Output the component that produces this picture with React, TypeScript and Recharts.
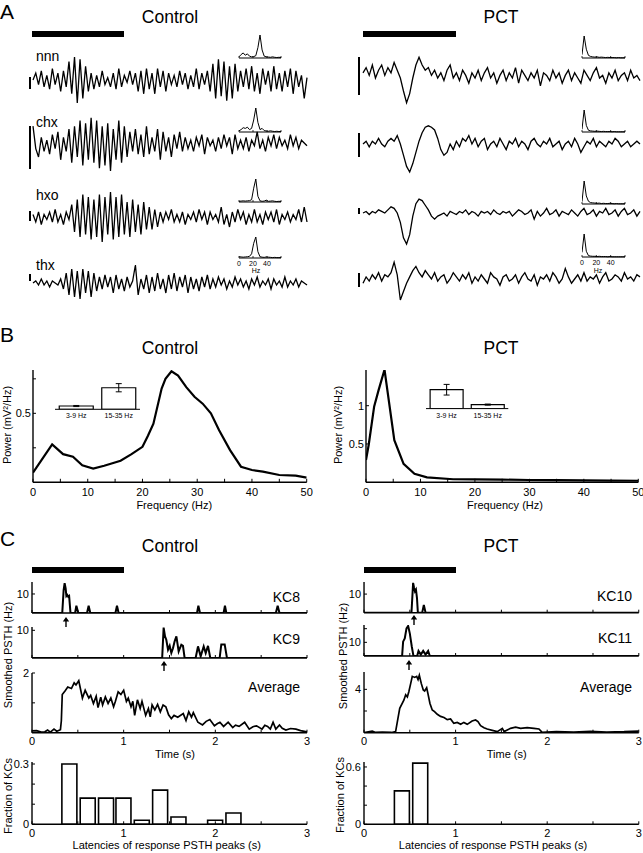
import { LineChart, Line, XAxis, YAxis, BarChart, Bar, ErrorBar } from 'recharts';

const FONT = '"Liberation Sans", Arial, Helvetica, sans-serif';
const INK = '#000';

// ---- Panel A: raw LFP traces (arbitrary units, left to right) ----
const CTRL_NNN = [0, 3, -2, 4, -3, 2, -4, 5, -2, 3, -5, 4, -3, 8, -6, 10, -10, 9, -8, 6, -5, 3, -4, 2, -3, 4, -2, 1, -3, 3, -4, 5, -3, 2, -1, 4, -2, 3, -5, 4, -6, 5, -4, 3, -6, 5, -3, 4, -5, 3, -2, 2, -3, 4, -2, 3, -4, 2, -3, 5, -4, 3, -2, 4, -5, 7, -8, 9, -7, 8, -9, 6, -8, 7, -5, 4, -3, 5, -4, 6, -5, 3, -6, 5, -2, 4, -5, 6, -4, 3, -5, 4, -3, 5, -6, 4, -3, 2, -8, 1];
const CTRL_CHX = [6, -2, -5, 2, -3, 1, -4, 3, -2, 4, -6, 2, -3, 5, -7, 6, -5, 8, -8, 7, -6, 9, -7, 8, -9, 6, -8, 7, -10, 5, -6, 8, -7, 6, -5, 4, -3, 5, -4, 3, -5, 6, -4, 2, -3, 5, -6, 4, -3, 2, -5, 3, -2, 4, -3, 2, -2, 1, -3, 2, -1, 3, -4, 2, -1, 1, -3, 2, -2, 3, -1, 2, -4, 3, -2, 1, -2, 2, -3, 1, -1, 4, -2, 1, -3, 2, -1, 3, -2, 2, -1, 1, -2, 3, -1, 2, -2, 1, 0, -1];
const CTRL_HXO = [1, -2, 2, -3, 1, -1, 2, -2, 3, -2, 1, -3, 2, -1, 5, -6, 7, -8, 9, -7, 8, -9, 7, -8, 9, -10, 8, -7, 10, -9, 8, -8, 9, -7, 6, -8, 7, -6, 5, -7, 6, -5, 4, -5, 3, -4, 2, -2, 2, -1, 3, -2, 1, -2, 2, -3, 1, -1, 2, -2, 3, -1, 2, -3, 2, -1, 1, -2, 4, -3, 1, -4, 2, -2, 3, -1, 2, -3, 1, -2, 3, -2, 1, -3, 2, -1, 2, -2, 3, -3, 1, -1, 2, -2, 1, -1, 3, -2, 4, -2];
const CTRL_THX = [0, 1, -1, 2, -1, 1, -2, 1, 0, -1, 2, -3, 5, -6, 7, -7, 6, -8, 7, -5, 6, -7, 5, -4, 3, -3, 4, -2, 3, -5, 4, -3, 2, -4, 3, -2, 1, 9, -6, 2, -3, 4, -5, 3, -4, 5, -3, 2, -5, 4, -3, 5, -4, 3, -2, 4, -5, 3, -3, 2, -4, 3, -2, 4, -3, 2, -2, 3, -1, 2, -3, 1, -2, 3, -1, 2, -2, 1, -3, 2, -1, 3, -2, 1, -1, 2, -3, 2, -1, 1, -2, 3, -2, 1, -1, 2, -2, 1, 0, -1];
const PCT_NNN = [2, 4, 1, 5, 0, 3, 5, 1, 4, 2, 6, 3, 0, -5, -9.5, -6, 0, 5, 8, 5, 3, 4, 1, 3, 0, 2, -1, 3, 5, 0, 2, -1, 3, 1, -2, 2, 0, 3, -1, 2, 4, 0, 2, -2, 1, 3, -1, 2, 0, 4, -2, 3, 1, -1, 2, 0, 3, -3, 2, 1, -1, 3, 0, 2, -2, 1, 3, -1, 2, 0, -2, 3, 1, -1, 2, 4, 0, 1, -2, 2, 0, 3, -1, 1, 2, -1, 3, 0, 1, -1];
const PCT_CHX = [0, 1, -1, 1, 0, 2, 0, -1, 1, 2, 1, 3, 0, -4, -8, -10, -7, -3, 1, 4, 6, 6.5, 6, 5, 2, -2, -4, -3, 0, -2, 1, -1, 2, 1, 3, 0, 2, -1, 1, 2, -2, 0, 1, -1, 2, 0, -2, 1, 0, 2, -1, 1, 0, -2, 1, 2, 0, -1, 1, 0, 2, -1, 0, 1, -2, 0, 1, -1, 2, 0, -3, -1, 1, 0, 2, -1, 1, 0, -1, 1, 0, 2, 1, -1, 0, 1, -1, 0, 1, 0];
const PCT_HXO = [0, 0.5, -0.5, 0.5, 0, 1, 0.5, 0, 1, 2, 1.5, 0, -3, -8, -10, -7, -1, 3, 4.5, 4, 2.5, 1, -1, -2, -1, -0.5, 0, -1, 0.5, 0, -0.5, 0.5, 0, 1, -0.5, 0.5, 0, -1, 0.5, 0, 0.5, -0.5, 1, 0, -0.5, 0.5, 0, 0.5, -1, 0, 1, 0.5, -0.5, 0, 1, -2, 0.5, -1, 0, 1.5, -0.5, 0, 1, -1, 0.5, 0, -0.5, 1, 0, -1, 0.5, 1.5, -0.5, 0, 1, -1, 0.5, 0, 1.5, -0.5, 0, 1, -1, 0.5, 1.5, -0.5, 0, 1, -1, 0.5];
const PCT_THX = [-2, 1, -1, 2, 0, 3, -1, 2, 1, 3, 8, 2, -10, -6, -2, 1, 4, 6, 3, 1, 4, 2, 0, 3, -1, 1, 2, -2, 0, 3, 1, -1, 2, 0, 3, -2, 1, -1, 2, 0, -2, 3, 1, 0, -3, 1, 2, -1, 0, 2, -2, 1, 3, 0, -1, 2, -3, 1, 0, 2, -1, 3, 1, -2, 0, 5, 1, -2, 0, 2, -1, 3, -1, 1, 0, 2, -2, 1, 3, -1, 0, 2, 1, -1, 3, 0, 1, -1, 2, 1];

// ---- Panel A insets: normalised power spectra ----
const INSET_FREQ = [0, 3, 6, 9, 12, 15, 18, 21, 24, 27, 30, 33, 36, 39, 42, 45, 48, 51, 54, 57, 60];
const SPEC_CTRL_NNN = [0.05, 0.15, 0.22, 0.12, 0.18, 0.08, 0.05, 0.06, 0.1, 0.45, 1.0, 0.35, 0.08, 0.05, 0.04, 0.03, 0.05, 0.03, 0.02, 0.03, 0.02];
const SPEC_CTRL_CHX = [0.05, 0.1, 0.18, 0.15, 0.2, 0.1, 0.15, 0.5, 1.0, 0.4, 0.1, 0.15, 0.06, 0.04, 0.03, 0.05, 0.03, 0.02, 0.03, 0.02, 0.02];
const SPEC_CTRL_HXO = [0.03, 0.04, 0.05, 0.04, 0.05, 0.06, 0.1, 0.6, 1.0, 0.25, 0.05, 0.03, 0.04, 0.08, 0.03, 0.04, 0.05, 0.03, 0.02, 0.03, 0.02];
const SPEC_CTRL_THX = [0.06, 0.05, 0.04, 0.05, 0.06, 0.08, 0.2, 0.7, 1.0, 0.3, 0.06, 0.04, 0.03, 0.05, 0.04, 0.03, 0.02, 0.03, 0.02, 0.02, 0.02];
const SPEC_PCT_NNN = [0.15, 1.0, 0.4, 0.12, 0.07, 0.05, 0.04, 0.05, 0.03, 0.04, 0.03, 0.02, 0.03, 0.02, 0.02, 0.02, 0.01, 0.02, 0.01, 0.01, 0.01];
const SPEC_PCT_CHX = [0.12, 1.0, 0.3, 0.08, 0.05, 0.04, 0.03, 0.04, 0.03, 0.02, 0.03, 0.02, 0.02, 0.02, 0.01, 0.02, 0.01, 0.01, 0.01, 0.01, 0.01];
const SPEC_PCT_HXO = [0.1, 1.0, 0.35, 0.12, 0.06, 0.05, 0.04, 0.03, 0.04, 0.02, 0.03, 0.02, 0.02, 0.03, 0.02, 0.01, 0.02, 0.01, 0.01, 0.01, 0.01];
const SPEC_PCT_THX = [0.2, 1.0, 0.25, 0.06, 0.04, 0.03, 0.03, 0.02, 0.03, 0.02, 0.02, 0.02, 0.01, 0.02, 0.01, 0.01, 0.01, 0.01, 0.01, 0.01, 0.01];

// ---- Panel B: mean power spectra (mV^2/Hz) ----
const B_CTRL_FREQ = [0, 3.5, 5.5, 7.3, 9, 11, 13, 16, 18, 20, 21, 22, 23.5, 24.2, 25.3, 26.5, 28, 29.5, 31, 32.5, 34, 36, 38, 40, 42, 45, 48, 50];
const B_CTRL_POWER = [0.07, 0.274, 0.204, 0.185, 0.123, 0.1, 0.12, 0.156, 0.204, 0.257, 0.337, 0.425, 0.68, 0.75, 0.805, 0.774, 0.69, 0.62, 0.57, 0.5, 0.377, 0.233, 0.113, 0.089, 0.077, 0.053, 0.048, 0.034];
const B_PCT_FREQ = [0, 0.5, 1.5, 2.3, 3.4, 5.2, 6.9, 8.9, 11.2, 16, 20, 25, 30, 35, 40, 45, 50];
const B_PCT_POWER = [0.29, 0.49, 0.99, 1.2, 1.47, 0.55, 0.24, 0.11, 0.065, 0.04, 0.038, 0.035, 0.03, 0.028, 0.025, 0.022, 0.02];

// band-power insets
const BANDS = ['3-9 Hz', '15-35 Hz'];
const BAND_CTRL = [0.12, 0.79];
const BAND_CTRL_ERR = [0.02, 0.15];
const BAND_PCT = [0.71, 0.15];
const BAND_PCT_ERR = [0.2, 0.02];

// ---- Panel C: smoothed PSTHs (time s, rate Hz) ----
const KC8_T = [0, 0.33, 0.345, 0.356, 0.367, 0.375, 0.385, 0.395, 0.405, 0.42, 0.47, 0.484, 0.505, 0.6, 0.618, 0.636, 0.91, 0.927, 0.945, 1.8, 1.815, 1.833, 2.09, 2.105, 2.12, 2.66, 2.68, 2.7, 3];
const KC8_V = [0, 0, 12, 15.7, 13, 8.9, 9.5, 8.6, 9, 0, 0, 3.8, 0, 0, 3.8, 0, 0, 3.8, 0, 0, 3.8, 0, 0, 3.8, 0, 0, 3.8, 0, 0];
const KC9_T = [0, 1.42, 1.436, 1.451, 1.465, 1.484, 1.502, 1.52, 1.538, 1.556, 1.575, 1.6, 1.629, 1.647, 1.665, 1.785, 1.811, 1.84, 1.873, 1.895, 1.92, 1.945, 2.047, 2.065, 2.102, 2.127, 3];
const KC9_V = [0, 0, 11, 7.8, 6.6, 3, 4.4, 1.8, 3.5, 6, 7.8, 2.4, 4.8, 4.4, 0, 0, 4.2, 0.6, 4.2, 1.8, 4.4, 0, 0, 4.9, 4.9, 0, 0];
const KC10_T = [0, 0.518, 0.536, 0.547, 0.556, 0.567, 0.578, 0.588, 0.635, 0.653, 0.672, 3];
const KC10_V = [0, 0, 16, 13.3, 11.5, 12.4, 8, 0, 0, 4.2, 0, 0];
const KC11_T = [0, 0.416, 0.427, 0.445, 0.464, 0.482, 0.5, 0.522, 0.54, 0.58, 0.595, 0.62, 0.646, 0.672, 0.7, 0.719, 3];
const KC11_V = [0, 0, 10.5, 12.9, 20.2, 22, 16.6, 6.8, 0, 0, 3.7, 1, 3.7, 1, 3.7, 0, 0];

const AVG_CTRL_T = [0, 0.05, 0.1, 0.14, 0.17, 0.2, 0.24, 0.27, 0.31, 0.32, 0.33, 0.36, 0.39, 0.43, 0.46, 0.48, 0.51, 0.55, 0.58, 0.62, 0.64, 0.67, 0.7, 0.72, 0.75, 0.77, 0.8, 0.83, 0.86, 0.89, 0.91, 0.94, 0.97, 1.0, 1.03, 1.05, 1.08, 1.1, 1.12, 1.15, 1.18, 1.2, 1.24, 1.27, 1.29, 1.31, 1.34, 1.37, 1.4, 1.43, 1.46, 1.49, 1.52, 1.55, 1.59, 1.65, 1.68, 1.71, 1.74, 1.76, 1.81, 1.86, 1.9, 1.94, 1.99, 2.02, 2.05, 2.09, 2.14, 2.19, 2.22, 2.26, 2.32, 2.37, 2.41, 2.45, 2.51, 2.54, 2.57, 2.6, 2.63, 2.66, 2.7, 2.73, 2.77, 2.82, 2.88, 2.93, 3.0];
const AVG_CTRL_V = [0.06, 0.07, 0.02, 0.03, 0.09, 0.02, 0.12, 0.05, 0.1, 0.4, 1.28, 1.4, 1.53, 1.48, 1.67, 1.6, 1.74, 1.16, 1.42, 1.16, 1.25, 0.98, 1.22, 0.84, 1.19, 0.93, 1.2, 0.98, 1.16, 0.87, 1.05, 1.37, 1.28, 1.42, 1.05, 1.16, 0.87, 1.05, 0.58, 1.1, 0.81, 1.05, 0.58, 0.81, 0.53, 0.93, 0.76, 0.95, 0.7, 0.93, 0.87, 0.6, 0.47, 0.58, 0.52, 0.64, 0.41, 0.7, 0.52, 0.67, 0.35, 0.26, 0.38, 0.44, 0.23, 0.3, 0.35, 0.21, 0.35, 0.17, 0.25, 0.21, 0.35, 0.12, 0.2, 0.23, 0.12, 0.25, 0.21, 0.12, 0.35, 0.12, 0.26, 0.15, 0.09, 0.14, 0.12, 0.07, 0.03];
const AVG_PCT_T = [0, 0.09, 0.12, 0.2, 0.3, 0.345, 0.37, 0.39, 0.435, 0.455, 0.473, 0.49, 0.51, 0.527, 0.553, 0.575, 0.59, 0.604, 0.625, 0.647, 0.662, 0.684, 0.698, 0.72, 0.745, 0.77, 0.8, 0.836, 0.873, 0.909, 0.945, 0.98, 1.018, 1.055, 1.09, 1.127, 1.18, 1.218, 1.244, 1.273, 1.31, 1.345, 1.4, 1.455, 1.51, 1.53, 1.6, 1.655, 1.71, 1.782, 1.855, 1.91, 1.945, 2.1, 2.29, 2.47, 2.65, 2.84, 3.0];
const AVG_PCT_V = [0, 0.15, 0.03, 0.05, 0.02, 0.1, 1.3, 2.25, 3.0, 3.5, 3.3, 3.8, 4.55, 5.2, 5.1, 5.2, 4.9, 5.3, 4.55, 3.95, 3.85, 4.15, 3.6, 2.7, 2.1, 1.95, 1.7, 1.5, 1.4, 1.2, 1.26, 0.86, 0.95, 0.77, 0.95, 0.77, 1.08, 1.17, 1.02, 0.65, 0.46, 0.34, 0.22, 0.1, 0.4, 0.1, 0.4, 0.52, 0.4, 0.46, 0.4, 0.34, 0.03, 0.1, 0.06, 0.12, 0.06, 0.09, 0.15];

// latency histograms (bin centre s, fraction of KCs)
const HIST_CTRL_T = [0.41, 0.61, 0.81, 1.0, 1.2, 1.4, 1.6, 2.0, 2.2];
const HIST_CTRL_F = [0.3, 0.13, 0.13, 0.13, 0.02, 0.17, 0.036, 0.02, 0.056];
const HIST_PCT_T = [0.41, 0.61];
const HIST_PCT_F = [0.35, 0.64];

const T_TICKS = [0, 0.5, 1, 1.5, 2, 2.5, 3];
const F_TICKS = [0, 5, 10, 15, 20, 25, 30, 35, 40, 45, 50];

type Box = { x: number; y: number; w: number; h: number };

const PAD = 8;
// box is the plot area in page pixels; axL / axB are the axis bands outside it
function frame(b: Box, axL = 0, axB = 0) {
  return {
    style: { position: 'absolute' as const, left: b.x - axL - PAD, top: b.y - PAD },
    width: b.w + axL + 2 * PAD,
    height: b.h + axB + 2 * PAD,
    margin: { top: PAD, right: PAD, bottom: PAD, left: PAD },
  };
}

const axisLine = { stroke: INK, strokeWidth: 1.4 };
const tickLine = { stroke: INK, strokeWidth: 1 };
const tickFont = { fill: INK, fontSize: 11 };
const only = (shown: number[]) => (v: number) => (shown.includes(v) ? String(v) : '');
const whole = (v: number) => (Number.isInteger(v) ? String(v) : '');

function Trace({ box, values }: { box: Box; values: number[] }) {
  const data = values.map((v, i) => ({ i, v }));
  const f = frame(box);
  return (
    <div style={f.style}>
      <LineChart width={f.width} height={f.height} margin={f.margin} data={data}>
        <XAxis dataKey="i" hide />
        <YAxis hide domain={[-10, 10]} />
        <Line dataKey="v" type="linear" stroke={INK} strokeWidth={1.3} dot={false} isAnimationActive={false} />
      </LineChart>
    </div>
  );
}

function SpecInset({ box, values, labelled = false }: { box: Box; values: number[]; labelled?: boolean }) {
  const data = INSET_FREQ.map((f, i) => ({ f, v: values[i] }));
  const f = frame(box, 0, 10);
  return (
    <div style={f.style}>
      <LineChart width={f.width} height={f.height} margin={f.margin} data={data}>
        <XAxis
          dataKey="f"
          type="number"
          domain={[0, 60]}
          allowDataOverflow
          ticks={[0, 20, 40, 60]}
          interval={0}
          height={10}
          tickSize={-2}
          tickMargin={5.5}
          axisLine={{ stroke: INK, strokeWidth: 1 }}
          tickLine={{ stroke: INK, strokeWidth: 0.8 }}
          tick={{ fill: INK, fontSize: 7 }}
          tickFormatter={(v: number) => (labelled && v < 60 ? String(v) : '')}
        />
        <YAxis hide domain={[0, 1]} />
        <Line dataKey="v" type="linear" stroke={INK} strokeWidth={1} dot={false} isAnimationActive={false} />
      </LineChart>
    </div>
  );
}

function Spectrum({ box, freq, power, yMax, yTicks, yShown }: { box: Box; freq: number[]; power: number[]; yMax: number; yTicks: number[]; yShown: number[] }) {
  const data = freq.map((f, i) => ({ f, p: power[i] }));
  const fr = frame(box, 32, 16);
  return (
    <div style={fr.style}>
      <LineChart width={fr.width} height={fr.height} margin={fr.margin} data={data}>
        <XAxis
          dataKey="f"
          type="number"
          domain={[0, 50]}
          allowDataOverflow
          ticks={F_TICKS}
          interval={0}
          height={16}
          tickSize={-3.5}
          tickMargin={9}
          axisLine={axisLine}
          tickLine={tickLine}
          tick={tickFont}
          tickFormatter={(v: number) => (v % 10 === 0 ? String(v) : '')}
        />
        <YAxis
          type="number"
          domain={[0, yMax]}
          allowDataOverflow
          ticks={yTicks}
          interval={0}
          width={32}
          tickSize={-3}
          tickMargin={5}
          axisLine={axisLine}
          tickLine={tickLine}
          tick={tickFont}
          tickFormatter={only(yShown)}
        />
        <Line dataKey="p" type="linear" stroke={INK} strokeWidth={2.2} dot={false} isAnimationActive={false} />
      </LineChart>
    </div>
  );
}

function BandInset({ box, values, errors }: { box: Box; values: number[]; errors: number[] }) {
  const data = BANDS.map((band, i) => ({ band, v: values[i], e: errors[i] }));
  const f = frame(box, 0, 12);
  return (
    <div style={f.style}>
      <BarChart width={f.width} height={f.height} margin={f.margin} data={data} barCategoryGap="10%">
        <XAxis
          dataKey="band"
          height={12}
          interval={0}
          tickSize={0}
          tickMargin={4}
          axisLine={{ stroke: INK, strokeWidth: 1 }}
          tickLine={false}
          tick={{ fill: INK, fontSize: 7 }}
        />
        <YAxis
          width={0}
          domain={[0, 1]}
          allowDataOverflow
          ticks={[0.25, 0.5, 0.75]}
          interval={0}
          tickSize={-1.5}
          tickMargin={0}
          axisLine={{ stroke: INK, strokeWidth: 1 }}
          tickLine={{ stroke: INK, strokeWidth: 0.8 }}
          tickFormatter={() => ''}
        />
        <Bar dataKey="v" fill="#fff" stroke={INK} strokeWidth={1.2} isAnimationActive={false}>
          <ErrorBar dataKey="e" width={3} stroke={INK} strokeWidth={1} />
        </Bar>
      </BarChart>
    </div>
  );
}

function TimeTrace({ box, t, v, yMax, yTicks, yShown, labels = false, width = 2 }: { box: Box; t: number[]; v: number[]; yMax: number; yTicks: number[]; yShown: number[]; labels?: boolean; width?: number }) {
  const data = t.map((x, i) => ({ t: x, v: v[i] }));
  const axB = labels ? 16 : 1;
  const f = frame(box, 30, axB);
  return (
    <div style={f.style}>
      <LineChart width={f.width} height={f.height} margin={f.margin} data={data}>
        <XAxis
          dataKey="t"
          type="number"
          domain={[0, 3]}
          allowDataOverflow
          ticks={T_TICKS}
          interval={0}
          height={axB}
          tickSize={-3}
          tickMargin={8}
          axisLine={axisLine}
          tickLine={tickLine}
          tick={tickFont}
          tickFormatter={labels ? whole : () => ''}
        />
        <YAxis
          type="number"
          domain={[0, yMax]}
          allowDataOverflow
          ticks={yTicks}
          interval={0}
          width={30}
          tickSize={-3}
          tickMargin={6}
          axisLine={axisLine}
          tickLine={tickLine}
          tick={tickFont}
          tickFormatter={only(yShown)}
        />
        <Line dataKey="v" type="linear" stroke={INK} strokeWidth={width} dot={false} isAnimationActive={false} />
      </LineChart>
    </div>
  );
}

function Hist({ box, t, v, yMax, yTicks, yShown }: { box: Box; t: number[]; v: number[]; yMax: number; yTicks: number[]; yShown: number[] }) {
  const data = t.map((x, i) => ({ t: x, v: v[i] }));
  const f = frame(box, 30, 16);
  return (
    <div style={f.style}>
      <BarChart width={f.width} height={f.height} margin={f.margin} data={data} barSize={15}>
        <XAxis
          dataKey="t"
          type="number"
          domain={[0, 3]}
          allowDataOverflow
          ticks={T_TICKS}
          interval={0}
          height={16}
          tickSize={-3}
          tickMargin={7.5}
          axisLine={axisLine}
          tickLine={tickLine}
          tick={tickFont}
          tickFormatter={whole}
        />
        <YAxis
          type="number"
          domain={[0, yMax]}
          allowDataOverflow
          ticks={yTicks}
          interval={0}
          width={30}
          tickSize={-3}
          tickMargin={6}
          axisLine={axisLine}
          tickLine={tickLine}
          tick={tickFont}
          tickFormatter={only(yShown)}
        />
        <Bar dataKey="v" fill="#fff" stroke={INK} strokeWidth={1.6} isAnimationActive={false} />
      </BarChart>
    </div>
  );
}

function Txt({ x, y, size, align = 'left', children }: { x: number; y: number; size: number; align?: 'left' | 'center' | 'right'; children: React.ReactNode }) {
  const shift = align === 'center' ? 'translateX(-50%)' : align === 'right' ? 'translateX(-100%)' : 'none';
  return (
    <div style={{ position: 'absolute', left: x, top: y, fontSize: size, lineHeight: 1, whiteSpace: 'nowrap', transform: shift }}>
      {children}
    </div>
  );
}

function VTxt({ x, y, size, children }: { x: number; y: number; size: number; children: React.ReactNode }) {
  return (
    <div style={{ position: 'absolute', left: x, top: y, fontSize: size, lineHeight: 1, whiteSpace: 'nowrap', transform: 'translate(-50%, -50%) rotate(-90deg)' }}>
      {children}
    </div>
  );
}

function Rect({ x, y, w, h }: Box) {
  return <div style={{ position: 'absolute', left: x, top: y, width: w, height: h, background: INK }} />;
}

function Arrow({ x, y }: { x: number; y: number }) {
  return (
    <svg style={{ position: 'absolute', left: x - 4, top: y }} width={8} height={10}>
      <path d="M4 0 L0.8 4.5 H3.3 V10 H4.7 V4.5 H7.2 Z" fill={INK} />
    </svg>
  );
}

export default function App() {
  return (
    <div style={{ position: 'absolute', left: 0, top: 0, width: 643, height: 853, background: '#fff', fontFamily: FONT, color: INK }}>
      {/* ---------- A ---------- */}
      <Txt x={0} y={0.5} size={21}>A</Txt>
      <Txt x={170} y={8.5} size={17.5} align="center">Control</Txt>
      <Txt x={501} y={8.5} size={17.5} align="center">PCT</Txt>
      <Rect x={32} y={31} w={92} h={6} />
      <Rect x={363} y={31} w={93} h={6} />

      <Txt x={36} y={49} size={14}>nnn</Txt>
      <Txt x={36} y={114.8} size={14}>chx</Txt>
      <Txt x={36} y={187.5} size={14}>hxo</Txt>
      <Txt x={36} y={257.5} size={14}>thx</Txt>

      <Trace box={{ x: 33, y: 57, w: 274, h: 46 }} values={CTRL_NNN} />
      <Trace box={{ x: 33, y: 115, w: 274, h: 56 }} values={CTRL_CHX} />
      <Trace box={{ x: 33, y: 191.5, w: 274, h: 50 }} values={CTRL_HXO} />
      <Trace box={{ x: 33, y: 263, w: 274, h: 40 }} values={CTRL_THX} />
      <Trace box={{ x: 363, y: 52, w: 277, h: 52 }} values={PCT_NNN} />
      <Trace box={{ x: 363, y: 116, w: 277, h: 56 }} values={PCT_CHX} />
      <Trace box={{ x: 363, y: 182, w: 277, h: 62 }} values={PCT_HXO} />
      <Trace box={{ x: 363, y: 258, w: 277, h: 42 }} values={PCT_THX} />

      {/* scale bars */}
      <Rect x={28.5} y={77} w={2} h={12} />
      <Rect x={28.5} y={126} w={2} h={43} />
      <Rect x={28.5} y={211} w={2} h={10} />
      <Rect x={28.5} y={274} w={2} h={7} />
      <Rect x={358} y={57} w={2} h={38} />
      <Rect x={358} y={133} w={2} h={24} />
      <Rect x={358} y={208} w={2} h={6} />
      <Rect x={358} y={273} w={2} h={14} />

      <SpecInset box={{ x: 239, y: 35, w: 42, h: 23 }} values={SPEC_CTRL_NNN} />
      <SpecInset box={{ x: 239, y: 108, w: 42, h: 24 }} values={SPEC_CTRL_CHX} />
      <SpecInset box={{ x: 239, y: 179, w: 42, h: 23 }} values={SPEC_CTRL_HXO} />
      <SpecInset box={{ x: 239, y: 237, w: 42, h: 21 }} values={SPEC_CTRL_THX} labelled />
      <SpecInset box={{ x: 582, y: 36, w: 43, h: 22 }} values={SPEC_PCT_NNN} />
      <SpecInset box={{ x: 582, y: 110, w: 43, h: 22 }} values={SPEC_PCT_CHX} />
      <SpecInset box={{ x: 582, y: 181, w: 43, h: 23 }} values={SPEC_PCT_HXO} />
      <SpecInset box={{ x: 582, y: 234, w: 43, h: 23 }} values={SPEC_PCT_THX} labelled />
      <Txt x={256} y={267} size={7} align="center">Hz</Txt>
      <Txt x={598} y={266.5} size={7} align="center">Hz</Txt>

      {/* ---------- B ---------- */}
      <Txt x={0} y={324} size={21}>B</Txt>
      <Txt x={170} y={340.2} size={17.5} align="center">Control</Txt>
      <Txt x={501} y={340.2} size={17.5} align="center">PCT</Txt>

      <Spectrum box={{ x: 33.3, y: 370, w: 273.7, h: 112.3 }} freq={B_CTRL_FREQ} power={B_CTRL_POWER} yMax={0.814} yTicks={[0.25, 0.5, 0.75]} yShown={[0.5]} />
      <Spectrum box={{ x: 365.7, y: 370, w: 272.3, h: 112.3 }} freq={B_PCT_FREQ} power={B_PCT_POWER} yMax={1.466} yTicks={[0.5, 1]} yShown={[0.5, 1]} />
      <BandInset box={{ x: 55, y: 381.7, w: 85, h: 27.3 }} values={BAND_CTRL} errors={BAND_CTRL_ERR} />
      <BandInset box={{ x: 426, y: 381.7, w: 82.3, h: 26.6 }} values={BAND_PCT} errors={BAND_PCT_ERR} />

      <VTxt x={7} y={425} size={11}>Power (mV²/Hz)</VTxt>
      <VTxt x={338} y={424.5} size={11}>Power (mV²/Hz)</VTxt>
      <Txt x={174.3} y={499.6} size={11} align="center">Frequency (Hz)</Txt>
      <Txt x={505} y={499.6} size={11} align="center">Frequency (Hz)</Txt>

      {/* ---------- C ---------- */}
      <Txt x={0} y={528.2} size={21}>C</Txt>
      <Txt x={170} y={537.9} size={17.5} align="center">Control</Txt>
      <Txt x={501} y={537.9} size={17.5} align="center">PCT</Txt>
      <Rect x={32} y={566.5} w={92} h={6} />
      <Rect x={364} y={566.5} w={92} h={6} />

      <TimeTrace box={{ x: 32.3, y: 582, w: 275, h: 31 }} t={KC8_T} v={KC8_V} yMax={16.3} yTicks={[10]} yShown={[10]} />
      <TimeTrace box={{ x: 32.3, y: 627.3, w: 275, h: 31 }} t={KC9_T} v={KC9_V} yMax={11.2} yTicks={[10]} yShown={[10]} />
      <TimeTrace box={{ x: 32.3, y: 673, w: 275, h: 59.7 }} t={AVG_CTRL_T} v={AVG_CTRL_V} yMax={2} yTicks={[1, 2]} yShown={[2]} labels width={1.7} />
      <Hist box={{ x: 32.3, y: 761.7, w: 275, h: 62.3 }} t={HIST_CTRL_T} v={HIST_CTRL_F} yMax={0.31} yTicks={[0, 0.1, 0.2, 0.3]} yShown={[0, 0.3]} />

      <TimeTrace box={{ x: 363.5, y: 582, w: 274.8, h: 30.7 }} t={KC10_T} v={KC10_V} yMax={16.5} yTicks={[10]} yShown={[10]} />
      <TimeTrace box={{ x: 363.5, y: 625, w: 274.8, h: 31 }} t={KC11_T} v={KC11_V} yMax={22.7} yTicks={[10, 20]} yShown={[10]} />
      <TimeTrace box={{ x: 363.5, y: 672, w: 274.8, h: 60.7 }} t={AVG_PCT_T} v={AVG_PCT_V} yMax={5.6} yTicks={[2, 4]} yShown={[4]} labels width={1.7} />
      <Hist box={{ x: 363.5, y: 761.7, w: 274.8, h: 62.3 }} t={HIST_PCT_T} v={HIST_PCT_F} yMax={0.652} yTicks={[0, 0.2, 0.4, 0.6]} yShown={[0, 0.6]} />

      <Arrow x={65.5} y={617} />
      <Arrow x={164.3} y={661} />
      <Arrow x={414} y={614.5} />
      <Arrow x={408.7} y={660} />

      <Txt x={300} y={589.8} size={14} align="right">KC8</Txt>
      <Txt x={300} y={631.5} size={14} align="right">KC9</Txt>
      <Txt x={300} y={679.8} size={14} align="right">Average</Txt>
      <Txt x={632} y={588.8} size={14} align="right">KC10</Txt>
      <Txt x={632} y={630.8} size={14} align="right">KC11</Txt>
      <Txt x={632} y={679.8} size={14} align="right">Average</Txt>

      <VTxt x={7.5} y={655} size={11}>Smoothed PSTH (Hz)</VTxt>
      <VTxt x={343} y={656} size={11}>Smoothed PSTH (Hz)</VTxt>
      <VTxt x={8.3} y={796} size={11}>Fraction of KCs</VTxt>
      <VTxt x={340.3} y={795} size={11}>Fraction of KCs</VTxt>
      <Txt x={175} y={748.6} size={11} align="center">Time (s)</Txt>
      <Txt x={506.7} y={748.6} size={11} align="center">Time (s)</Txt>
      <Txt x={166.7} y={840.3} size={11} align="center">Latencies of response PSTH peaks (s)</Txt>
      <Txt x={493} y={840.3} size={11} align="center">Latencies of response PSTH peaks (s)</Txt>
    </div>
  );
}
